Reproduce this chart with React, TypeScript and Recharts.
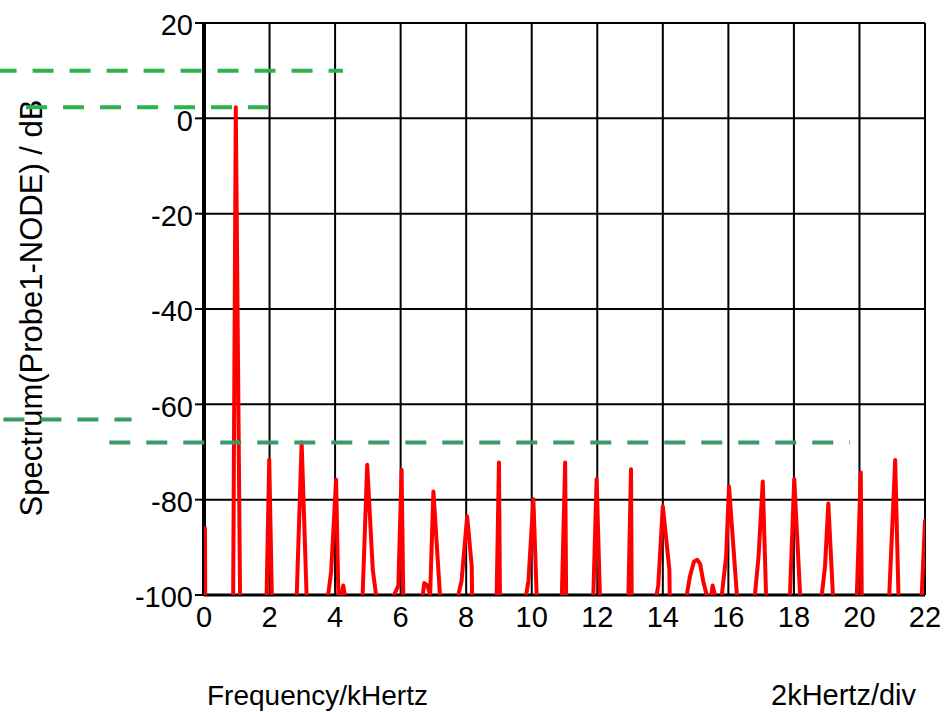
import React from 'react';
import { LineChart, Line, XAxis, YAxis, CartesianGrid, ReferenceLine } from 'recharts';

// Spectrum samples: frequency in kHz, level in dB (values below -100 fall out of the plot)
const freqKHz = [
  0.03, 0.06, 0.5,
  0.89, 0.97, 1.1, 1.5,
  1.91, 1.99, 2.07, 2.5,
  2.83, 2.98, 3.13, 3.5,
  3.79, 3.88, 4.03, 4.1, 4.17, 4.25, 4.3, 4.6,
  4.84, 4.98, 5.15, 5.25, 5.5,
  5.8, 5.93, 6.03, 6.08, 6.4,
  6.66, 6.72, 6.82, 6.9, 7.0, 7.2, 7.5,
  7.76, 7.86, 8.03, 8.17, 8.18, 8.5,
  8.93, 9.0, 9.03, 9.4,
  9.83, 9.9, 10.05, 10.15, 10.5,
  10.92, 11.02, 11.05, 11.5,
  11.88, 11.98, 12.08, 12.5,
  12.95, 13.03, 13.05, 13.4,
  13.81, 13.86, 14.0, 14.2, 14.21, 14.5,
  14.73, 14.83, 14.95, 15.05, 15.14, 15.23, 15.34, 15.4,
  15.46, 15.52, 15.59, 15.7,
  15.8, 15.93, 16.02, 16.26, 16.5,
  16.81, 16.92, 17.05, 17.15, 17.5,
  17.88, 18.01, 18.19, 18.5,
  18.85, 18.95, 19.05, 19.19, 19.5,
  19.92, 20.04, 20.07, 20.5,
  20.91, 21.09, 21.19, 21.5,
  21.9, 22.0,
];

const levelDb = [
  -86, -150, -150,
  -100, 2.3, -100, -150,
  -100, -71.6, -100, -150,
  -100, -68, -100, -150,
  -100, -95, -75.8, -100, -101, -98, -100, -150,
  -100, -72.7, -94.7, -100, -150,
  -100, -98, -73.7, -100, -150,
  -101, -97.5, -98, -100, -78.3, -100, -150,
  -100, -97, -83.5, -94, -100, -150,
  -100, -72.2, -100, -150,
  -100, -97, -79.9, -100, -150,
  -100, -72.2, -100, -150,
  -100, -75.7, -100, -150,
  -100, -73.6, -100, -150,
  -100, -98, -81.4, -94.7, -100, -150,
  -100, -96, -93, -92.6, -93.5, -97, -100, -150,
  -101, -98, -100, -150,
  -100, -92, -77.2, -100, -150,
  -100, -92, -76.2, -100, -150,
  -100, -75.7, -100, -150,
  -100, -94, -80.8, -100, -150,
  -100, -74.3, -100, -150,
  -100, -71.7, -100, -150,
  -100, -84.4,
];

const xTicks = [0, 2, 4, 6, 8, 10, 12, 14, 16, 18, 20, 22];
const yTicks = [-100, -80, -60, -40, -20, 0, 20];

// cursor markers: level (dB) and span (kHz)
const markerDb = [10, 2.3, -63.2, -68];
const markerFrom = [-6.36, -5.43, -6.12, -2.89];
const markerTo = [4.24, 1.96, -2.21, 19.71];

const markerColors = ['#2db34e', '#2db34e', '#3a9b68', '#3a9b68'];
const FONT = '"Liberation Sans", Arial, sans-serif';

const data = freqKHz.map((f, i) => ({ f, db: levelDb[i] }));

const App: React.FC = () => {
  return (
    <div style={{ position: 'absolute', left: 0, top: 0, width: 945, height: 712, background: '#fff' }}>
      <svg width={945} height={712} style={{ position: 'absolute', left: 0, top: 0 }}>
        <text
          x={31}
          y={308}
          transform="rotate(-90 31 308)"
          textAnchor="middle"
          dominantBaseline="central"
          fontFamily={FONT}
          fontSize={31}
          fill="#000"
        >
          Spectrum(Probe1-NODE) / dB
        </text>
        <text x={207} y={705} fontFamily={FONT} fontSize={28} fill="#000">
          Frequency/kHertz
        </text>
        <text x={771} y={705} fontFamily={FONT} fontSize={29} fill="#000">
          2kHertz/div
        </text>
      </svg>
      <div style={{ position: 'absolute', left: 0, top: 0 }}>
        <LineChart width={945} height={712} data={data} margin={{ top: 23, right: 20, left: 0, bottom: 0 }}>
          <CartesianGrid stroke="#000" strokeWidth={2} horizontalValues={yTicks} verticalValues={xTicks} />
          <XAxis
            type="number"
            dataKey="f"
            domain={[0, 22]}
            ticks={xTicks}
            allowDataOverflow
            height={117}
            tickLine={false}
            tickSize={0}
            tickMargin={11}
            axisLine={{ stroke: '#000', strokeWidth: 3 }}
            tick={{ fill: '#000', fontSize: 29, fontFamily: FONT }}
            interval={0}
          />
          <YAxis
            type="number"
            domain={[-100, 20]}
            ticks={yTicks}
            allowDataOverflow
            width={204}
            tickSize={9}
            tickMargin={2}
            tickLine={{ stroke: '#000', strokeWidth: 2 }}
            axisLine={{ stroke: '#000', strokeWidth: 4 }}
            tick={{ fill: '#000', fontSize: 29, fontFamily: FONT, dy: 2 }}
            interval={0}
          />
          <Line
            type="linear"
            dataKey="db"
            stroke="#ff0000"
            strokeWidth={4}
            strokeLinejoin="round"
            strokeLinecap="round"
            dot={false}
            activeDot={false}
            isAnimationActive={false}
            zIndex={600}
          />
          {markerDb.map((level, i) => (
            <ReferenceLine
              key={`marker-${i}`}
              segment={[
                { x: markerFrom[i], y: level },
                { x: markerTo[i], y: level },
              ]}
              ifOverflow="visible"
              stroke={markerColors[i]}
              strokeWidth={4}
              strokeDasharray="21 16"
              zIndex={700}
            />
          ))}
        </LineChart>
      </div>
    </div>
  );
};

export default App;
